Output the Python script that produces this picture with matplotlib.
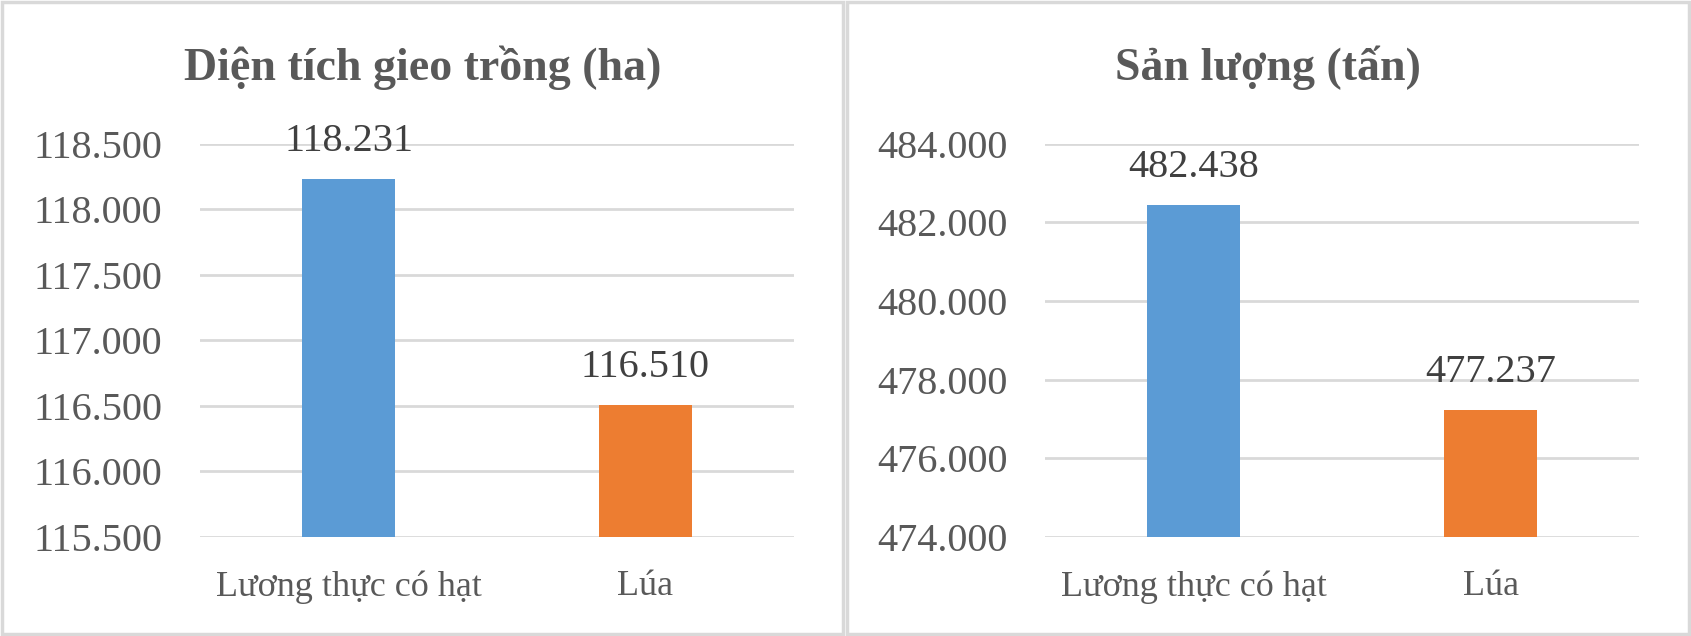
import matplotlib.pyplot as plt
from matplotlib.patches import Rectangle

# data
categories = ['Lương thực có hạt', 'Lúa']
dien_tich = [118231, 116510]
san_luong = [482438, 477237]
titles = ['Diện tích gieo trồng (ha)', 'Sản lượng (tấn)']
colors = ['#5B9BD5', '#ED7D31']

plt.rcParams['font.family'] = ['Liberation Serif', 'DejaVu Serif']

W, H = 1691, 636
fig = plt.figure(figsize=(W / 100, H / 100), dpi=100)

def fmt(v):
    return f"{v:,.0f}".replace(',', '.')

def draw_panel(left_px, values, ylim, step, title, panel):
    ax = fig.add_axes([left_px / W, 99 / H, 594 / W, 393.5 / H])
    x = range(len(categories))
    ax.bar(x, values, width=0.31, color=colors, zorder=3)
    ax.set_xlim(-0.5, len(categories) - 0.5)
    ax.set_ylim(*ylim)
    ticks = list(range(ylim[0], ylim[1] + 1, step))
    ax.set_yticks(ticks)
    ax.set_yticklabels([fmt(t) for t in ticks])
    ax.set_xticks(list(x))
    ax.set_xticklabels(categories)
    ax.grid(axis='y', color='#D9D9D9', linewidth=2, zorder=0)
    for s in ax.spines.values():
        s.set_visible(False)
    ax.tick_params(axis='y', length=0, pad=27, labelsize=29, labelcolor='#595959')
    ax.tick_params(axis='x', length=0, pad=24, labelsize=26, labelcolor='#595959')
    for i, v in enumerate(values):
        ax.annotate(fmt(v), (i, v), xytext=(0, 27), textcoords='offset points',
                    ha='center', va='center', fontsize=29, color='#404040')
    # panel border and title
    x0, x1 = panel
    fig.add_artist(Rectangle((x0 / W, 2 / H), (x1 - x0) / W, (H - 4) / H,
                             transform=fig.transFigure, fill=False,
                             edgecolor='#D9D9D9', linewidth=2.5))
    fig.text((x0 + x1) / 2 / W, 1 - 68 / H, title, ha='center', va='center',
             fontsize=33, fontweight='bold', color='#595959')

draw_panel(200, dien_tich, (115500, 118500), 500, titles[0], (2, 843))
draw_panel(1045, san_luong, (474000, 484000), 2000, titles[1], (847, 1689))

fig.savefig('out.png', dpi=100)
